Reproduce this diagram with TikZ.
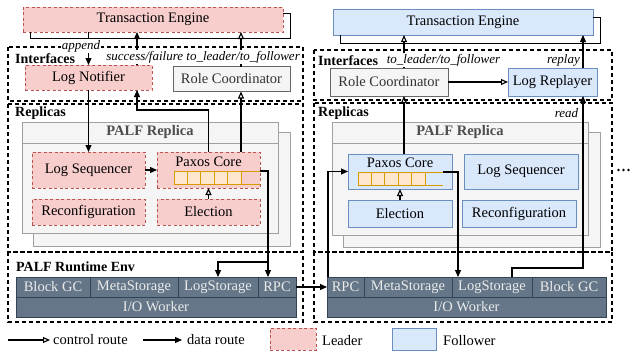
\documentclass[tikz,border=0pt]{standalone}
\usepackage{fontspec}
\setmainfont{Liberation Serif}
\usetikzlibrary{arrows.meta,calc}
\definecolor{ldrfill}{HTML}{F8CECC}
\definecolor{ldrline}{HTML}{B85450}
\definecolor{flwfill}{HTML}{DAE8FC}
\definecolor{flwline}{HTML}{6C8EBF}
\definecolor{neufill}{HTML}{F5F5F5}
\definecolor{neuline}{HTML}{666666}
\definecolor{neutext}{HTML}{333333}
\definecolor{repline}{HTML}{A0A0A0}
\definecolor{reptext}{HTML}{4D4D4D}
\definecolor{stofill}{HTML}{647687}
\definecolor{stoline}{HTML}{314354}
\definecolor{celfill}{HTML}{FFE6CC}
\definecolor{celline}{HTML}{D79B00}

\begin{document}
\begin{tikzpicture}[x=1pt,y=-1pt,
  txt/.style={font=\fontsize{14.5}{17}\selectfont},
  box/.style={txt, inner sep=0pt, outer sep=0pt, line width=0.9pt},
  leader/.style={box, fill=ldrfill, draw=ldrline, dash pattern=on 3pt off 2.5pt},
  follower/.style={box, fill=flwfill, draw=flwline},
  neutral/.style={box, fill=neufill, draw=neuline, text=neutext},
  replica/.style={inner sep=0pt, outer sep=0pt, fill=neufill, draw=repline, line width=0.9pt},
  store/.style={box, fill=stofill, draw=stoline, text=white!92!black, minimum height=20pt},
  cell/.style={inner sep=0pt, outer sep=0pt, minimum width=13.4pt, minimum height=13pt, fill=celfill, draw=celline, line width=0.9pt},
  cellrim/.style={draw=celline, line width=0.9pt},
  group/.style={draw=black, line width=1.1pt, dash pattern=on 4pt off 3pt},
  grouptitle/.style={font=\fontsize{14}{16}\selectfont\bfseries, anchor=west, inner sep=0pt},
  lbl/.style={font=\fontsize{13}{15}\selectfont\itshape, fill=white, inner sep=1pt},
  wire/.style={line width=1.1pt},
  data/.style={wire, -{Triangle[length=7pt,width=6pt]}},
  ctrl/.style={wire, -{Triangle[open,length=7pt,width=6pt]}},
]
\useasboundingbox (0,0) rectangle (630,354);

% ---------- group frames ----------
\draw[group] (8,47) rectangle (303,101);
\draw[group] (8,104) rectangle (303,252);
\draw[group] (8,252) rectangle (303,322);
\draw[group] (314,50) rectangle (612,100);
\draw[group] (314,103) rectangle (612,252);
\draw[group] (314,252) rectangle (612,322);

\node[grouptitle] (ifL) at (15,59) {Interfaces};
\node[grouptitle] (rpL) at (15,113) {Replicas};
\node[grouptitle] (rtL) at (16,267) {PALF Runtime Env};
\node[grouptitle] (ifR) at (318,61) {Interfaces};
\node[grouptitle] (rpR) at (318,113) {Replicas};

% ---------- PALF replica containers ----------
\node[replica, minimum width=257pt, minimum height=114pt] (prLback) at (161.5,189) {};
\node[replica, minimum width=256pt, minimum height=111pt] (prL) at (150,177.5) {};
\draw[draw=repline, line width=0.9pt] (22,143) -- (278,143);
\node[font=\fontsize{14.5}{17}\selectfont\bfseries, text=reptext] (prLt) at (150,132.5) {PALF Replica};

\node[replica, minimum width=257pt, minimum height=115pt] (prRback) at (471.5,189.5) {};
\node[replica, minimum width=256pt, minimum height=113pt] (prR) at (460,178.5) {};
\draw[draw=repline, line width=0.9pt] (332,143) -- (588,143);
\node[font=\fontsize{14.5}{17}\selectfont\bfseries, text=reptext] (prRt) at (460,132.5) {PALF Replica};

% ---------- leader side ----------
\node[leader, minimum width=260pt, minimum height=25pt] (teL) at (153,19.5) {Transaction Engine};
\node[leader, minimum width=127pt, minimum height=25pt] (lnL) at (88.5,77.5) {Log Notifier};
\node[neutral, minimum width=117pt, minimum height=25pt] (rcL) at (231.5,79) {Role Coordinator};
\node[leader, minimum width=113pt, minimum height=36pt] (lsL) at (88.5,170) {Log Sequencer};
\node[leader, minimum width=103pt, minimum height=36pt] (pcL) at (208.5,170) {};
\node[txt] (pcLt) at (208.5,161.5) {Paxos Core};
\node[leader, minimum width=113pt, minimum height=26pt] (reL) at (88.5,212) {Reconfiguration};
\node[leader, minimum width=103pt, minimum height=26pt] (elL) at (208.5,212) {Election};
\foreach \i in {0,...,4} \node[cell] (cL\i) at ({180.7+13.4*\i},177.5) {};
\draw[cellrim] (cL4.north east) -- (260,171) (cL4.south east) -- (260,184);
\coordinate (cLend) at (260,171);

\node[store, minimum width=74pt] (bgL) at (53,287) {Block GC};
\node[store, minimum width=88pt] (msL) at (134,287) {MetaStorage};
\node[store, minimum width=80pt] (lsgL) at (218,287) {LogStorage};
\node[store, minimum width=38pt] (rpcL) at (277,287) {RPC};
\node[store, minimum width=280pt] (ioL) at (156,307) {I/O Worker};

% ---------- follower side ----------
\node[follower, minimum width=260pt, minimum height=26pt] (teR) at (463,22) {Transaction Engine};
\node[neutral, minimum width=118pt, minimum height=28pt] (rcR) at (389,82) {Role Coordinator};
\node[follower, minimum width=89pt, minimum height=28pt] (lrR) at (552.5,82) {Log Replayer};
\node[follower, minimum width=104pt, minimum height=35pt] (pcR) at (400,171.5) {};
\node[txt] (pcRt) at (400,163) {Paxos Core};
\node[follower, minimum width=114pt, minimum height=35pt] (lsR) at (521,171.5) {Log Sequencer};
\node[follower, minimum width=104pt, minimum height=27pt] (elR) at (400,213.5) {Election};
\node[follower, minimum width=114pt, minimum height=27pt] (reR) at (519,213.5) {Reconfiguration};
\foreach \i in {0,...,4} \node[cell] (cR\i) at ({364.7+13.4*\i},178.5) {};
\draw[cellrim] (cR4.north east) -- (443,172) (cR4.south east) -- (443,185);
\coordinate (cRend) at (443,172);

\node[store, minimum width=37pt] (rpcR) at (345.5,287) {RPC};
\node[store, minimum width=88pt] (msR) at (408,287) {MetaStorage};
\node[store, minimum width=80pt] (lsgR) at (492,287) {LogStorage};
\node[store, minimum width=74pt] (bgR) at (569,287) {Block GC};
\node[store, minimum width=279pt] (ioR) at (466.5,307) {I/O Worker};

% ---------- wires, leader side ----------
\coordinate (xs) at (137,0);
\coordinate (xr) at (241,0);
\coordinate (xq) at (268,0);
\coordinate (jL) at (268,262);

\draw[wire, line width=1pt] ($(teL.south west)+(7,0)$) -- ++(0,6) -| ($(teL.north east)+(7,6)$) -- ($(teL.north east)+(0,6)$);
\draw[data] (teL.south -| lnL.north) -- (lnL.north);
\draw[data] (lnL.north -| xs) -- (teL.south -| xs);
\draw[ctrl] (rcL.north -| xr) -- (teL.south -| xr);
\draw[data] (lnL.south) -- (lsL.north);
\draw[data] (pcL.north) -- ++(0,-42) -| (lnL.south -| xs);
\draw[ctrl] (pcL.north -| xr) -- (rcL.south -| xr);
\draw[data] (lsL.east) -- (pcL.west);
\draw[ctrl] (elL.north) -- (pcL.south);
\draw[data] (cLend) -| (rpcL.north -| xq);
\draw[data] (jL) -| (lsgL.north);
\draw[data] (rpcL.east) -- (rpcR.west);

% ---------- wires, follower side ----------
\coordinate (xa) at (404,0);
\coordinate (xb) at (583,0);
\coordinate (xc) at (512,0);
\coordinate (xd) at (328,0);
\coordinate (xe) at (458,0);

\draw[wire, line width=1pt] ($(teR.south west)+(7,0)$) -- ++(0,8) -| ($(teR.north east)+(7,8)$) -- ($(teR.north east)+(0,8)$);
\draw[ctrl] (rcR.north -| xa) -- (teR.south -| xa);
\draw[ctrl] (rcR.east) -- (lrR.west);
\draw[data] (lrR.north -| xb) -- (teR.south -| xb);
\draw[ctrl] (pcR.north -| xa) -- (rcR.south -| xa);
\draw[data] (lsgR.north -| xc) -- ++(0,-9) -| (lrR.south -| xb);
\draw[data] (rpcR.north -| xd) |- (pcR.west);
\draw[data] (cRend) -| (lsgR.north -| xe);
\draw[ctrl] (elR.north) -- (pcR.south);

% ---------- wire labels ----------
\node[lbl] (apL) at (81,46) {append};
\node[lbl, anchor=east] (sfL) at (301,57) {success/failure to\_leader/to\_follower};
\node[lbl] (tlR) at (443.5,60) {to\_leader/to\_follower};
\node[lbl] (rpyR) at (563.5,60) {replay};
\node[lbl] (rdR) at (566.5,113) {read};

% ---------- more replicas ----------
\foreach \x in {618.5,623.5,628.5} \fill (\x,170) circle[radius=1.4pt];

% ---------- legend ----------
\coordinate (lc1) at (8,340);
\coordinate (lc2) at (50,340);
\coordinate (ld1) at (143,340);
\coordinate (ld2) at (182,340);
\draw[ctrl] (lc1) -- (lc2);
\node[txt, anchor=west, inner sep=0pt] (lct) at (53,340) {control route};
\draw[data] (ld1) -- (ld2);
\node[txt, anchor=west, inner sep=0pt] (ldt) at (187,340) {data route};
\node[leader, minimum width=46pt, minimum height=22pt] (lgL) at (293,339) {};
\node[txt, anchor=west, inner sep=0pt] (lgLt) at (322,341) {Leader};
\node[follower, minimum width=44pt, minimum height=22pt] (lgF) at (414,339) {};
\node[txt, anchor=west, inner sep=0pt] (lgFt) at (443,341) {Follower};
\end{tikzpicture}
\end{document}
